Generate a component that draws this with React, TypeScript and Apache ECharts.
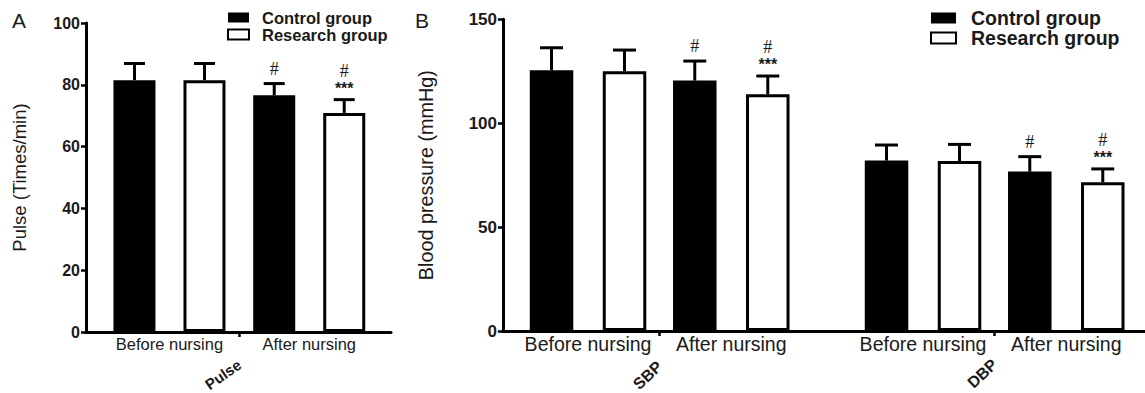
import React, { useEffect, useRef } from 'react';
import * as echarts from 'echarts';

// ---------- data ----------
const subCategories = ['Before nursing', 'After nursing'];
const pulseGroup = ['Pulse'];
const sbpGroup = ['SBP'];
const dbpGroup = ['DBP'];
const seriesNames = ['Control group', 'Research group'];

const pulseControl = [81.5, 76.6];
const pulseControlSd = [5.4, 3.8];
const pulseResearch = [81.5, 70.9];
const pulseResearchSd = [5.4, 4.3];

const sbpControl = [125.5, 120.5];
const sbpControlSd = [10.8, 9.4];
const sbpResearch = [125.0, 113.9];
const sbpResearchSd = [10.2, 8.8];

const dbpControl = [82.0, 76.7];
const dbpControlSd = [7.5, 7.2];
const dbpResearch = [81.8, 71.6];
const dbpResearchSd = [8.0, 6.4];

// significance marks per category (listed bottom to top)
const controlMarks = [[], ['#']];
const researchMarks = [[], ['***', '#']];

const pulseAxis = { min: 0, max: 100, interval: 20 };
const bpAxis = { min: 0, max: 150, interval: 50 };

// ---------- styles ----------
const FONT = '"Liberation Sans", Arial, Helvetica, sans-serif';
const INK = '#000';
const TEXT = '#1a1a1a';

function errorSeries(
  xAxisIndex: number,
  yAxisIndex: number,
  control: number[],
  controlSd: number[],
  research: number[],
  researchSd: number[],
  pitch: number,
  capW: number
) {
  const data: number[][] = [];
  control.forEach((v, i) => data.push([i, v, controlSd[i], 0]));
  research.forEach((v, i) => data.push([i, v, researchSd[i], 1]));
  return {
    type: 'custom',
    xAxisIndex,
    yAxisIndex,
    data,
    z: 10,
    silent: true,
    clip: false,
    renderItem: (params: any, api: any) => {
      const cat = api.value(0);
      const mean = api.value(1);
      const sd = api.value(2);
      const grp = api.value(3);
      const base = api.coord([cat, mean]);
      const top = api.coord([cat, mean + sd]);
      const x = base[0] + (grp === 0 ? -1 : 1) * pitch / 2;
      const children: any[] = [
        {
          type: 'line',
          shape: { x1: x, y1: base[1], x2: x, y2: top[1] },
          style: { stroke: INK, lineWidth: 3 },
        },
        {
          type: 'line',
          shape: { x1: x - capW / 2, y1: top[1], x2: x + capW / 2, y2: top[1] },
          style: { stroke: INK, lineWidth: 3 },
        },
      ];
      const marks = (grp === 0 ? controlMarks : researchMarks)[cat] || [];
      marks.forEach((m: string, k: number) => {
        const isStar = m.indexOf('*') >= 0;
        const cy = top[1] - 15 - k * 14;
        children.push({
          type: 'text',
          x,
          y: isStar ? cy + 3.5 : cy,
          style: {
            text: m,
            fill: TEXT,
            fontSize: isStar ? 16 : 18,
            fontWeight: isStar ? 'bold' : 'normal',
            fontFamily: isStar ? FONT : '"Liberation Serif", "Times New Roman", serif',
            align: 'center',
            verticalAlign: 'middle',
          },
        });
      });
      return { type: 'group', children };
    },
  };
}

function barPair(
  xAxisIndex: number,
  yAxisIndex: number,
  control: number[],
  research: number[],
  barWidth: number,
  barGap: string
) {
  return [
    {
      type: 'bar',
      name: seriesNames[0],
      xAxisIndex,
      yAxisIndex,
      data: control,
      barWidth,
      barGap,
      silent: true,
      itemStyle: { color: INK, borderColor: INK, borderWidth: 3 },
    },
    {
      type: 'bar',
      name: seriesNames[1],
      xAxisIndex,
      yAxisIndex,
      data: research,
      barWidth,
      barGap,
      silent: true,
      itemStyle: { color: '#fff', borderColor: INK, borderWidth: 3 },
    },
  ];
}

const gridBase = { containLabel: false, outerBoundsMode: 'none' };

function lineAxis(gridIndex: number) {
  return {
    gridIndex,
    type: 'category',
    data: [''],
    position: 'bottom',
    axisLine: { show: true, lineStyle: { color: INK, width: 3 } },
    axisTick: { show: false },
    axisLabel: { show: false },
    splitLine: { show: false },
  };
}

function subAxis(gridIndex: number, fontSize: number) {
  return {
    gridIndex,
    type: 'category',
    data: subCategories,
    position: 'bottom',
    axisLine: { show: false },
    axisTick: { show: false },
    axisLabel: { interval: 0, fontSize, color: TEXT, margin: 3, fontFamily: FONT, hideOverlap: false },
    splitLine: { show: false },
  };
}

// group axis: only the centre tick; its rotated label is added below from the axis' own pixel position
function groupAxis(gridIndex: number, data: string[]) {
  return {
    gridIndex,
    type: 'category',
    data,
    position: 'bottom',
    axisLine: { show: false },
    axisTick: { show: true, alignWithLabel: true, length: 5, lineStyle: { color: INK, width: 2.5 } },
    axisLabel: { show: false },
    splitLine: { show: false },
  };
}

function visibleY(gridIndex: number, range: any, name: string, nameGap: number, labelSize: number, nameSize: number) {
  return {
    gridIndex,
    type: 'value',
    ...range,
    name,
    nameLocation: 'middle',
    nameRotate: 90,
    nameGap,
    nameTextStyle: { fontSize: nameSize, color: TEXT, fontFamily: FONT },
    axisLine: { show: true, lineStyle: { color: INK, width: 3 } },
    axisTick: { show: true, length: 5, lineStyle: { color: INK, width: 2.5 } },
    axisLabel: { fontSize: labelSize, fontWeight: 'bold', color: TEXT, margin: 6, fontFamily: FONT },
    splitLine: { show: false },
  };
}

function hiddenY(gridIndex: number, range: any) {
  return { gridIndex, type: 'value', ...range, show: false, splitLine: { show: false } };
}

function legendFor(left: number, top: number, w: number, h: number, fontSize: number, lineHeight: number, padLeft: number) {
  return {
    orient: 'vertical',
    left,
    top,
    padding: 0,
    itemGap: 0,
    itemWidth: w,
    itemHeight: h,
    icon: 'rect',
    selectedMode: false,
    textStyle: { fontSize, fontWeight: 'bold', color: TEXT, fontFamily: FONT, lineHeight, padding: [0, 0, 0, padLeft] },
    data: [
      { name: seriesNames[0], itemStyle: { color: INK, borderColor: INK, borderWidth: 0 } },
      { name: seriesNames[1], itemStyle: { color: '#fff', borderColor: INK, borderWidth: 2 } },
    ],
  };
}

const panelLetters = [
  { id: 'letterA', type: 'text', x: 12, y: 20, style: { text: 'A', fontSize: 21, fontFamily: FONT, fill: TEXT, align: 'left', verticalAlign: 'middle' } },
  { id: 'letterB', type: 'text', x: 415, y: 20, style: { text: 'B', fontSize: 21, fontFamily: FONT, fill: TEXT, align: 'left', verticalAlign: 'middle' } },
];

export default function App() {
  const ref = useRef<HTMLDivElement>(null);
  useEffect(() => {
    if (!ref.current) return;
    const chart = echarts.init(ref.current, null, { renderer: 'svg' });
    const option: any = {
      animation: false,
      backgroundColor: '#fff',
      grid: [
        { ...gridBase, left: 86, top: 23, width: 305, height: 309 },
        { ...gridBase, left: 99.6, top: 23, width: 279.5, height: 309 },
        { ...gridBase, left: 503, top: 19.3, width: 642, height: 311.7 },
        { ...gridBase, left: 516.4, top: 19.3, width: 286.5, height: 311.7 },
        { ...gridBase, left: 851.4, top: 19.3, width: 286.5, height: 311.7 },
      ],
      xAxis: [
        lineAxis(0),
        subAxis(1, 16.5),
        groupAxis(1, pulseGroup),
        lineAxis(2),
        subAxis(3, 19.5),
        groupAxis(3, sbpGroup),
        subAxis(4, 19.5),
        groupAxis(4, dbpGroup),
      ],
      yAxis: [
        visibleY(0, pulseAxis, 'Pulse (Times/min)', 57, 16, 18.5),
        hiddenY(1, pulseAxis),
        visibleY(2, bpAxis, 'Blood pressure (mmHg)', 67, 17, 19.8),
        hiddenY(3, bpAxis),
        hiddenY(4, bpAxis),
      ],
      legend: [
        legendFor(227, 9, 21, 10, 16.5, 17, 8),
        legendFor(930, 8, 25, 11, 19.5, 19, 10),
      ],
      graphic: panelLetters,
      series: [
        ...barPair(1, 1, pulseControl, pulseResearch, 42, '66.7%'),
        ...barPair(4, 3, sbpControl, sbpResearch, 43.5, '67.8%'),
        ...barPair(6, 4, dbpControl, dbpResearch, 43.5, '67.8%'),
        errorSeries(1, 1, pulseControl, pulseControlSd, pulseResearch, pulseResearchSd, 70, 21),
        errorSeries(4, 3, sbpControl, sbpControlSd, sbpResearch, sbpResearchSd, 73, 23),
        errorSeries(6, 4, dbpControl, dbpControlSd, dbpResearch, dbpResearchSd, 73, 23),
      ],
    };
    chart.setOption(option);

    // rotated group labels, anchored at each group axis' centre tick
    const groups = [
      { id: 'gPulse', text: pulseGroup[0], xAxisIndex: 2, yAxisIndex: 1, angle: 35, size: 15, drop: 31 },
      { id: 'gSBP', text: sbpGroup[0], xAxisIndex: 5, yAxisIndex: 3, angle: 43, size: 16, drop: 33 },
      { id: 'gDBP', text: dbpGroup[0], xAxisIndex: 7, yAxisIndex: 4, angle: 43, size: 16, drop: 31 },
    ];
    const labels = groups.map((g) => {
      const x = chart.convertToPixel({ xAxisIndex: g.xAxisIndex } as any, 0 as any) as unknown as number;
      const y = chart.convertToPixel({ yAxisIndex: g.yAxisIndex } as any, 0 as any) as unknown as number;
      return {
        id: g.id,
        type: 'text',
        x,
        y: y + g.drop,
        rotation: (g.angle * Math.PI) / 180,
        style: {
          text: g.text,
          fontSize: g.size,
          fontWeight: 'bold',
          fontFamily: FONT,
          fill: TEXT,
          align: 'right',
          verticalAlign: 'middle',
        },
      };
    });
    chart.setOption({ graphic: [...panelLetters, ...labels] });
    return () => chart.dispose();
  }, []);
  return (
    <div
      ref={ref}
      style={{ position: 'fixed', left: 0, top: 0, width: 1145, height: 393, background: '#fff' }}
    />
  );
}
